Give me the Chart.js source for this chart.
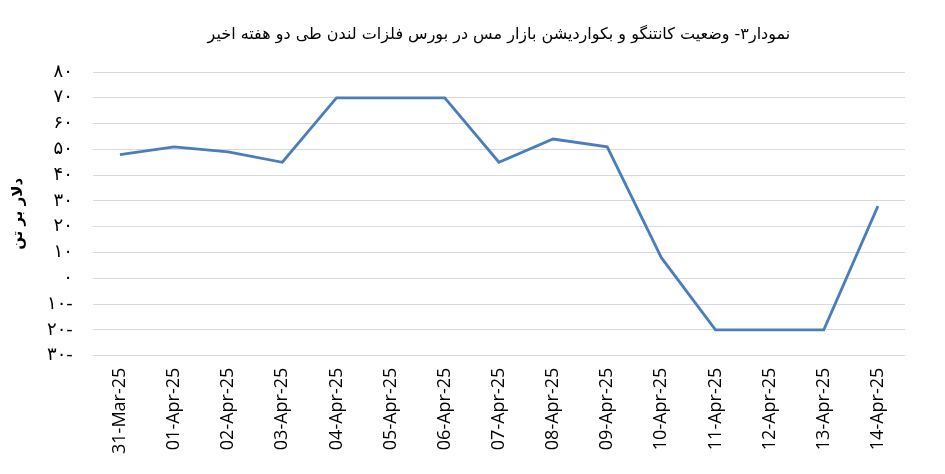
<!DOCTYPE html>
<html>
<head>
<meta charset="utf-8">
<script src="https://cdn.jsdelivr.net/npm/chart.js@4"></script>
<style>
  html, body { margin: 0; padding: 0; background: #fff; }
  #wrap { width: 945px; height: 474px; }
</style>
</head>
<body>
<div id="wrap"><canvas id="chart" width="945" height="474"></canvas></div>
<script>
// داده‌ها
const dates = ['31-Mar-25', '01-Apr-25', '02-Apr-25', '03-Apr-25', '04-Apr-25', '05-Apr-25', '06-Apr-25',
  '07-Apr-25', '08-Apr-25', '09-Apr-25', '10-Apr-25', '11-Apr-25', '12-Apr-25', '13-Apr-25', '14-Apr-25'];
const spread = [48, 51, 49, 45, 70, 70, 70, 45, 54, 51, 8, -20, -20, -20, 28];
const yTickValues = [80, 70, 60, 50, 40, 30, 20, 10, 0, -10, -20, -30];
const yTickLabels = ['۸۰', '۷۰', '۶۰', '۵۰', '۴۰', '۳۰', '۲۰', '۱۰', '۰', '۱۰-', '۲۰-', '۳۰-'];
const titleText = 'نمودار۳- وضعیت کانتنگو و بکواردیشن بازار مس در بورس فلزات لندن طی دو هفته اخیر';
const yTitleText = 'دلار بر تن';

const faFont = '"DejaVu Sans", "Noto Sans", sans-serif';

// عنوان بالای ناحیه رسم
const titlePlugin = {
  id: 'plotTitle',
  afterDraw(chart) {
    const c = chart.ctx;
    const a = chart.chartArea;
    c.save();
    c.font = '16px ' + faFont;
    c.fillStyle = '#000';
    c.textAlign = 'center';
    c.textBaseline = 'middle';
    c.direction = 'rtl';
    c.fillText(titleText, (a.left + a.right) / 2, 35);
    c.restore();
  }
};

new Chart(document.getElementById('chart'), {
  type: 'line',
  data: {
    labels: dates,
    datasets: [{
      data: spread,
      borderColor: '#4a7ebb',
      borderWidth: 2.8,
      pointRadius: 0,
      tension: 0,
      fill: false
    }]
  },
  options: {
    responsive: false,
    animation: false,
    layout: { padding: { top: 72, right: 40, left: 0, bottom: 8 } },
    plugins: {
      legend: { display: false },
      tooltip: { enabled: false },
      title: { display: false }
    },
    scales: {
      x: {
        offset: true,
        grid: { display: false, drawTicks: false },
        border: { display: false },
        ticks: {
          color: '#000',
          font: { family: '"Open Sans", sans-serif', size: 18 },
          maxRotation: 90,
          minRotation: 90,
          autoSkip: false,
          padding: 12
        }
      },
      y: {
        min: -30,
        max: 80,
        afterBuildTicks(axis) {
          axis.ticks = yTickValues.map(v => ({ value: v }));
        },
        grid: { color: '#d9d9d9', lineWidth: 1, drawTicks: false },
        border: { display: false },
        ticks: {
          color: '#000',
          font: { family: faFont, size: 18 },
          padding: 20,
          callback(v) {
            const i = yTickValues.indexOf(v);
            return i >= 0 ? yTickLabels[i] : '';
          }
        },
        title: {
          display: true,
          text: yTitleText,
          color: '#000',
          font: { family: faFont, size: 15, weight: 'bold' },
          padding: { top: 9, bottom: 0 }
        }
      }
    }
  },
  plugins: [titlePlugin]
});
</script>
</body>
</html>
